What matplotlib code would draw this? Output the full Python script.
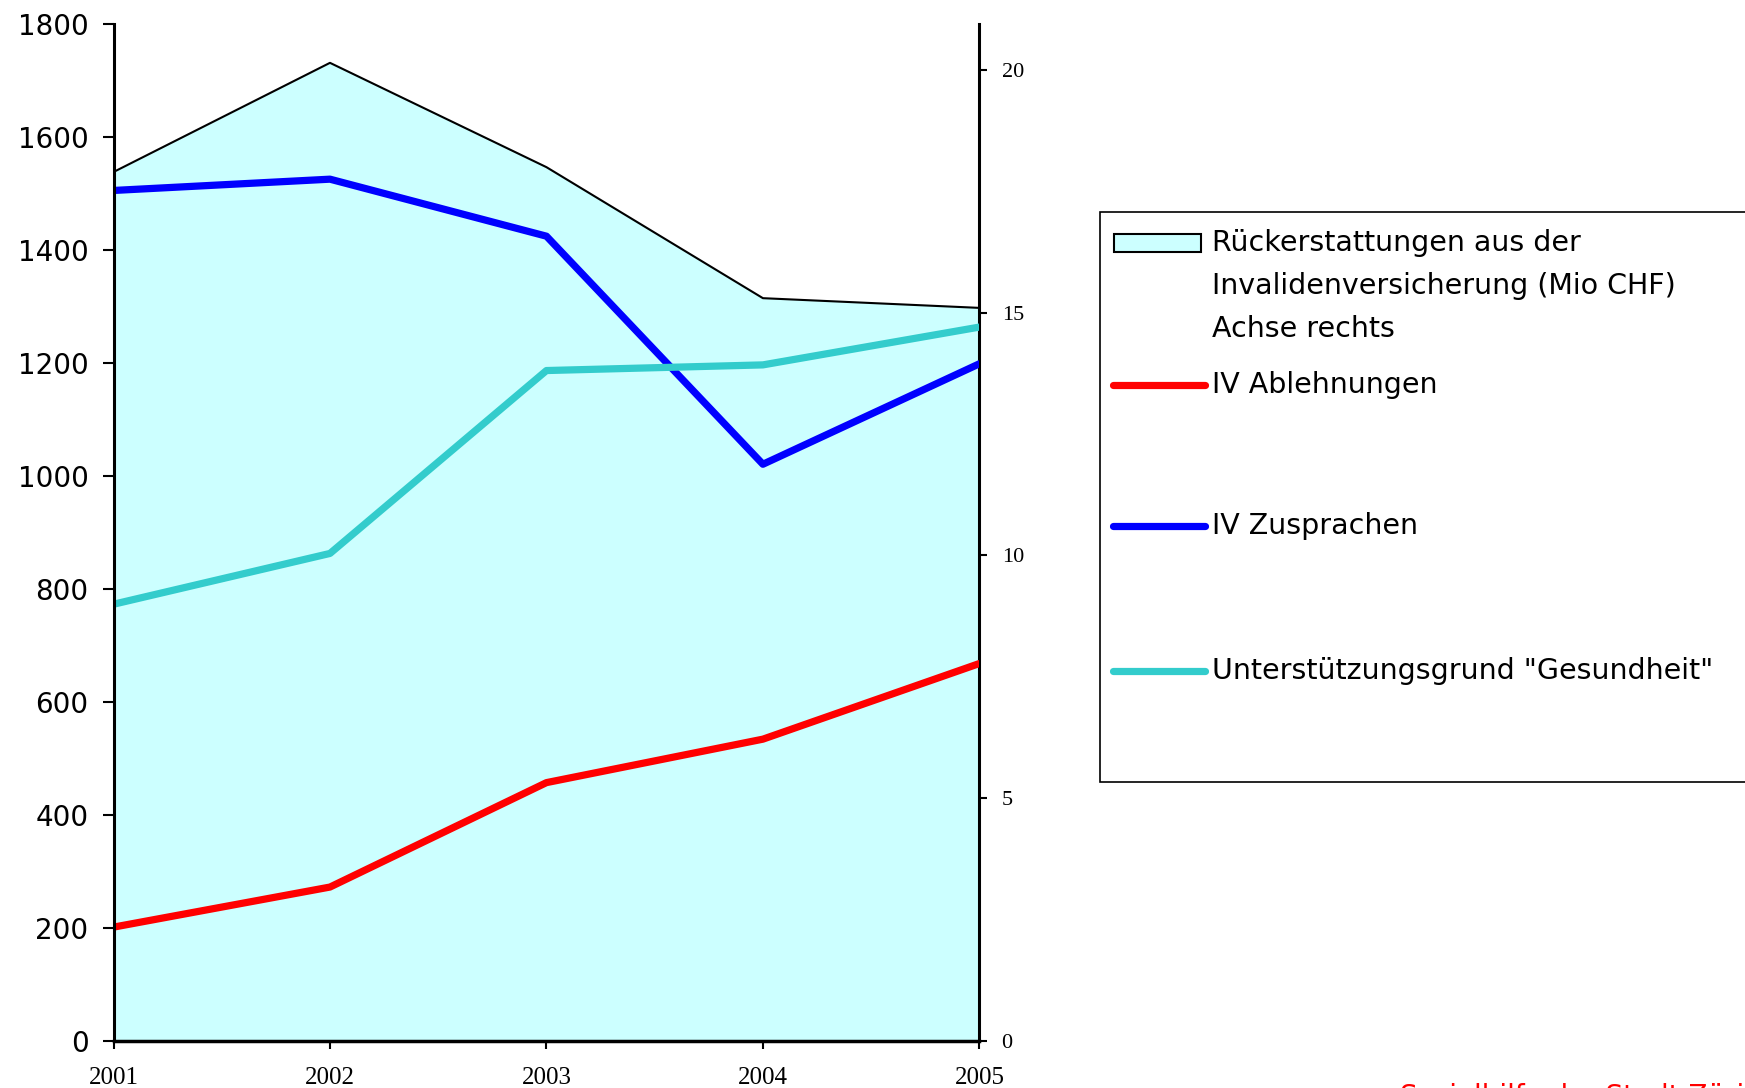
import matplotlib
matplotlib.use("Agg")
import matplotlib.pyplot as plt
from matplotlib.patches import Rectangle
from matplotlib.lines import Line2D

years = [2001, 2002, 2003, 2004, 2005]
rueckerstattungen = [17.9, 20.15, 18.0, 15.3, 15.1]   # Mio CHF, right axis
ablehnungen = [201, 272, 457, 534, 668]
zusprachen = [1506, 1526, 1425, 1021, 1199]
gesundheit = [773, 863, 1187, 1197, 1264]

left_ticks = [0, 200, 400, 600, 800, 1000, 1200, 1400, 1600, 1800]
right_ticks = [0, 5, 10, 15, 20]

W, H = 1745, 1088
fig = plt.figure(figsize=(W / 100, H / 100), dpi=100)
ax = fig.add_axes([113.5 / W, 1 - 1040.6 / H, (979.4 - 113.5) / W, (1040.6 - 24.5) / H])
ax2 = ax.twinx()
ax.set_zorder(ax2.get_zorder() + 1)
ax.patch.set_visible(False)

# area on right axis
ax2.fill_between(years, rueckerstattungen, 0, color='#CCFFFF', lw=0)
ax2.plot(years, rueckerstattungen, color='black', lw=1.5)
ax2.set_ylim(0, 20.94)
ax2.set_yticks(right_ticks)
ax2.set_yticklabels([str(t) for t in right_ticks], family='Liberation Serif', fontsize=16)

lw = 5.2
ax.plot(years, ablehnungen, color='#FF0000', lw=lw, solid_capstyle='round')
ax.plot(years, zusprachen, color='#0000FF', lw=lw, solid_capstyle='round')
ax.plot(years, gesundheit, color='#33CCCC', lw=lw, solid_capstyle='round')

ax.set_xlim(2001, 2005)
ax.set_ylim(0, 1800)
ax.set_yticks(left_ticks)
ax.set_yticklabels([str(t) for t in left_ticks], family='DejaVu Sans', fontsize=20)
ax.set_xticks(years)
ax.set_xticklabels([str(y) for y in years], family='Liberation Serif', fontsize=18)

for sp in ['top', 'right']:
    ax.spines[sp].set_visible(False)
for sp in ['top', 'left', 'bottom']:
    ax2.spines[sp].set_visible(False)
ax.spines['left'].set_linewidth(2.2)
ax.spines['bottom'].set_linewidth(2.5)
ax2.spines['right'].set_linewidth(2.2)
ax.tick_params(axis='y', length=8, width=1.5, pad=10)
ax.tick_params(axis='x', length=6, width=1.5, pad=13)
ax2.tick_params(axis='y', length=6, width=1.5, pad=10)


def fx(x):
    return x / W


def fy(y):
    return 1 - y / H


# legend drawn by hand
fig.add_artist(Rectangle((fx(1100), fy(782)), fx(1770) - fx(1100), fy(212) - fy(782),
                         transform=fig.transFigure, fc='white', ec='black', lw=1.2, clip_on=False))
fig.add_artist(Rectangle((fx(1114), fy(252)), fx(1201) - fx(1114), fy(234) - fy(252),
                         transform=fig.transFigure, fc='#CCFFFF', ec='black', lw=1.5))
lines_txt = ["Rückerstattungen aus der", "Invalidenversicherung (Mio CHF)", "Achse rechts"]
for i, t in enumerate(lines_txt):
    fig.text(fx(1212), fy(243 + 43 * i), t, fontsize=20.5, family='DejaVu Sans', va='center', ha='left')

entries = [("IV Ablehnungen", '#FF0000', 385),
           ("IV Zusprachen", '#0000FF', 526),
           ('Unterstützungsgrund "Gesundheit"', '#33CCCC', 671)]
for label, col, yy in entries:
    fig.add_artist(Line2D([fx(1113), fx(1205)], [fy(yy), fy(yy)], transform=fig.transFigure,
                          color=col, lw=lw, solid_capstyle='round'))
    fig.text(fx(1212), fy(yy), label, fontsize=20.5, family='DejaVu Sans', va='center', ha='left')

# source note, cut off at the lower edge as in the original
fig.text(fx(1400), fy(1083), "Sozialhilfe der Stadt Zürich", color='#FF0000',
         fontsize=20, family='DejaVu Sans', va='top', ha='left')

fig.savefig("out.png", dpi=100)
